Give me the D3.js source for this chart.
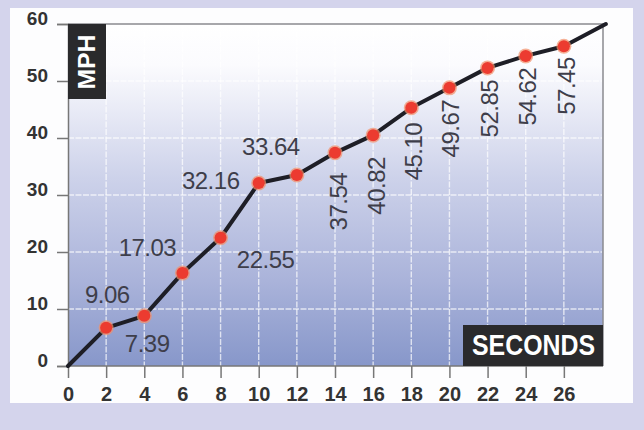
<!DOCTYPE html>
<html><head><meta charset="utf-8">
<script src="https://cdn.jsdelivr.net/npm/d3@7"></script>
<style>
html,body{margin:0;padding:0;background:#d4d4ec;}
svg{display:block;}
text{font-family:"Liberation Sans",Arial,Helvetica,sans-serif;}
</style></head>
<body>
<svg id="chart" width="644" height="430"></svg>
<script>
// ---- data ----
const seconds = [0, 2, 4, 6, 8, 10, 12, 14, 16, 18, 20, 22, 24, 26, 28.2];
const mph     = [0, 6.7, 8.8, 16.3, 22.5, 32.1, 33.5, 37.4, 40.5, 45.3, 48.8, 52.3, 54.4, 56.1, 60];
const valueLabels = ["", "7.39", "9.06", "17.03", "22.55", "32.16", "33.64", "37.54", "40.82", "45.10", "49.67", "52.85", "54.62", "57.45", ""];
const xTicks = [0, 2, 4, 6, 8, 10, 12, 14, 16, 18, 20, 22, 24, 26];
const yTicks = [0, 10, 20, 30, 40, 50, 60];
const xTitle = "SECONDS";
const yTitle = "MPH";

// label placement (style, not data): [dx, dy, rotated]
const labelPlace = [null, [41,24,0], [-37,-13,0], [-35,-17,0], [45,30,0], [-48,6,0], [-26,-20,0],
  [3,20,1], [3,22,1], [2,15,1], [1,12,1], [2,12,1], [2,12,1], [3,11,1], null];

const svg = d3.select("#chart");
const W = 644, H = 430;
const L = 68, R = 602, T = 24, B = 366;

svg.append("rect").attr("width", W).attr("height", H).attr("fill", "#d4d4ec");
svg.append("rect").attr("x", 10).attr("y", 8).attr("width", 623).attr("height", 395).attr("fill", "#fdfdfe");

const x = d3.scaleLinear().domain([0, 28]).range([L, R]);
const y = d3.scaleLinear().domain([0, 60]).range([B, T]);

const defs = svg.append("defs");
const grad = defs.append("linearGradient").attr("id", "bg").attr("x1", 0).attr("y1", 0).attr("x2", 0).attr("y2", 1);
[[0, "#ffffff"], [0.12, "#fbfbfe"], [0.45, "#cdd2ea"], [0.75, "#aab3da"], [1, "#8797ca"]]
  .forEach(([o, c]) => grad.append("stop").attr("offset", o).attr("stop-color", c));

svg.append("rect").attr("x", L).attr("y", T).attr("width", x(28) - L + 1).attr("height", B - T).attr("fill", "url(#bg)");

// grid
const grid = svg.append("g").attr("stroke", "#ffffff").attr("stroke-width", 1.4).attr("stroke-opacity", 0.7).attr("stroke-dasharray", "6,1.5");
grid.selectAll("line.v").data(xTicks.filter(d => d > 0)).join("line")
  .attr("x1", d => x(d)).attr("x2", d => x(d)).attr("y1", T).attr("y2", B);
grid.selectAll("line.h").data(yTicks.filter(d => d > 0 && d < 60)).join("line")
  .attr("x1", L).attr("x2", x(28)).attr("y1", d => y(d)).attr("y2", d => y(d));

// frame
svg.append("path").attr("d", `M${L},${T}H${x(28)+1}V${B}`).attr("fill", "none").attr("stroke", "#8a8a90").attr("stroke-width", 1.5);

// axes
const yAxis = d3.axisLeft(y).tickValues(yTicks).tickSize(11).tickPadding(9).tickFormat(d3.format("d"));
const gy = svg.append("g").attr("transform", `translate(${L},0)`).call(yAxis);
gy.select(".domain").attr("stroke", "#777").attr("stroke-width", 1.5);
gy.selectAll(".tick line").attr("stroke", "#777").attr("stroke-width", 1.5);
gy.selectAll(".tick text").attr("font-size", 19).attr("font-weight", "bold").attr("fill", "#333")
  .attr("dy", "0.05em");

const xAxis = d3.axisBottom(x).tickValues(xTicks).tickSize(12).tickPadding(9).tickFormat(d3.format("d"));
const gx = svg.append("g").attr("transform", `translate(0,${B})`).call(xAxis);
gx.select(".domain").attr("stroke", "#777").attr("stroke-width", 1.5).attr("d", `M${L},0H${x(28)+1}`);
gx.selectAll(".tick line").attr("stroke", "#777").attr("stroke-width", 1.5);
gx.selectAll(".tick text").attr("font-size", 20).attr("font-weight", "bold").attr("fill", "#333");

// axis title boxes
svg.append("rect").attr("x", L).attr("y", T).attr("width", 38).attr("height", 75).attr("fill", "#2a2a2c");
svg.append("text").attr("transform", `translate(${L + 27},${T + 38}) rotate(-90)`)
  .attr("text-anchor", "middle").attr("font-size", 24).attr("font-weight", "bold").attr("fill", "#fff")
  .attr("textLength", 55).attr("lengthAdjust", "spacingAndGlyphs").text(yTitle);

svg.append("rect").attr("x", 463).attr("y", 325).attr("width", x(28) - 463 + 1).attr("height", B - 325).attr("fill", "#2a2a2c");
svg.append("text").attr("x", 533.5).attr("y", 355)
  .attr("text-anchor", "middle").attr("font-size", 30).attr("font-weight", "bold").attr("fill", "#fff")
  .attr("textLength", 123).attr("lengthAdjust", "spacingAndGlyphs").text(xTitle);

// line
const pts = seconds.map((s, i) => [s, mph[i]]);
svg.append("path").datum(pts)
  .attr("d", d3.line().x(d => x(d[0])).y(d => y(d[1])))
  .attr("fill", "none").attr("stroke", "#1e1e26").attr("stroke-width", 4)
  .attr("stroke-linejoin", "round").attr("stroke-linecap", "round");

// dots
const dotData = pts.slice(1, -1);
svg.selectAll("circle.halo").data(dotData).join("circle")
  .attr("cx", d => x(d[0])).attr("cy", d => y(d[1])).attr("r", 7.5).attr("fill", "#f2906a").attr("opacity", 0.7);
svg.selectAll("circle.dot").data(dotData).join("circle")
  .attr("cx", d => x(d[0])).attr("cy", d => y(d[1])).attr("r", 6).attr("fill", "#ec3b30");

// value labels
const lab = svg.append("g").attr("font-size", 24).attr("fill", "#3e3e4a").attr("letter-spacing", "-0.5");
pts.forEach((p, i) => {
  const pl = labelPlace[i];
  if (!pl || !valueLabels[i]) return;
  const px = x(p[0]), py = y(p[1]);
  if (pl[2]) {
    lab.append("text")
      .attr("transform", `translate(${px + pl[0]},${py + pl[1]}) rotate(-90)`)
      .attr("text-anchor", "end").attr("dominant-baseline", "central")
      .text(valueLabels[i]);
  } else {
    lab.append("text").attr("x", px + pl[0]).attr("y", py + pl[1])
      .attr("text-anchor", "middle").text(valueLabels[i]);
  }
});
</script>
</body></html>
